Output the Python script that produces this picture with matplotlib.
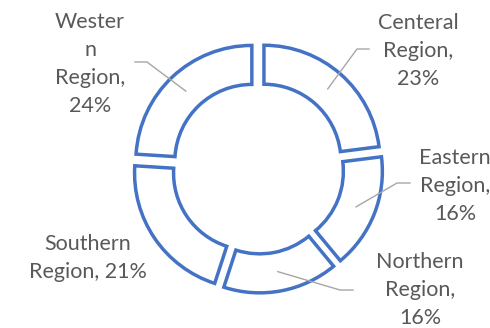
import numpy as np
import matplotlib
matplotlib.use("Agg")
import matplotlib.pyplot as plt

regions = ["Centeral\nRegion,", "Eastern\nRegion,", "Northern\nRegion,", "Southern\nRegion,", "Wester\nn\nRegion,"]
shares = [23, 16, 16, 21, 24]

# layout (data units = pixels relative to donut centre)
label_pos = [(160, 117), (197, -18), (162, -122), (-170, -90), (-168, 104)]
label_sep = ["\n", "\n", "\n", " ", "\n"]
elbows = [((111, 119), (99, 119)), ((152, -15), (139, -15)),
          ((95, -122), (82, -122)), None, ((-123, 106), (-111, 106))]

R_OUT = 116
WIDTH = 39
EXPL = 9
BLUE = "#4472C4"
GREY_TXT = "#595959"
GREY_LN = "#A6A6A6"

fig = plt.figure(figsize=(4.9, 3.28), dpi=100)
ax = fig.add_axes([0, 0, 1, 1])

wedges, _ = ax.pie(shares, radius=R_OUT, startangle=90, counterclock=False,
                   explode=[EXPL] * len(shares),
                   wedgeprops=dict(width=WIDTH, facecolor="white",
                                   edgecolor=BLUE, linewidth=2.5,
                                   joinstyle="miter"))
ax.set_xlim(-258, 232)
ax.set_ylim(-160, 168)
ax.set_aspect("equal")
ax.axis("off")

for w, name, sep, pos, elb, s in zip(wedges, regions, label_sep, label_pos, elbows, shares):
    txt = name + sep + f"{s}%" if sep == "\n" else name + f" {s}%"
    ax.text(pos[0], pos[1], txt, ha="center", va="center", fontsize=15.5,
            family="Lato", color=GREY_TXT, linespacing=1.5)
    if elb is not None:
        th = np.deg2rad((w.theta1 + w.theta2) / 2)
        r = EXPL + R_OUT - WIDTH / 2
        px, py = r * np.cos(th), r * np.sin(th)
        ax.plot([elb[0][0], elb[1][0], px], [elb[0][1], elb[1][1], py],
                color=GREY_LN, lw=1.0, zorder=3)

fig.savefig("out.png", dpi=100)
